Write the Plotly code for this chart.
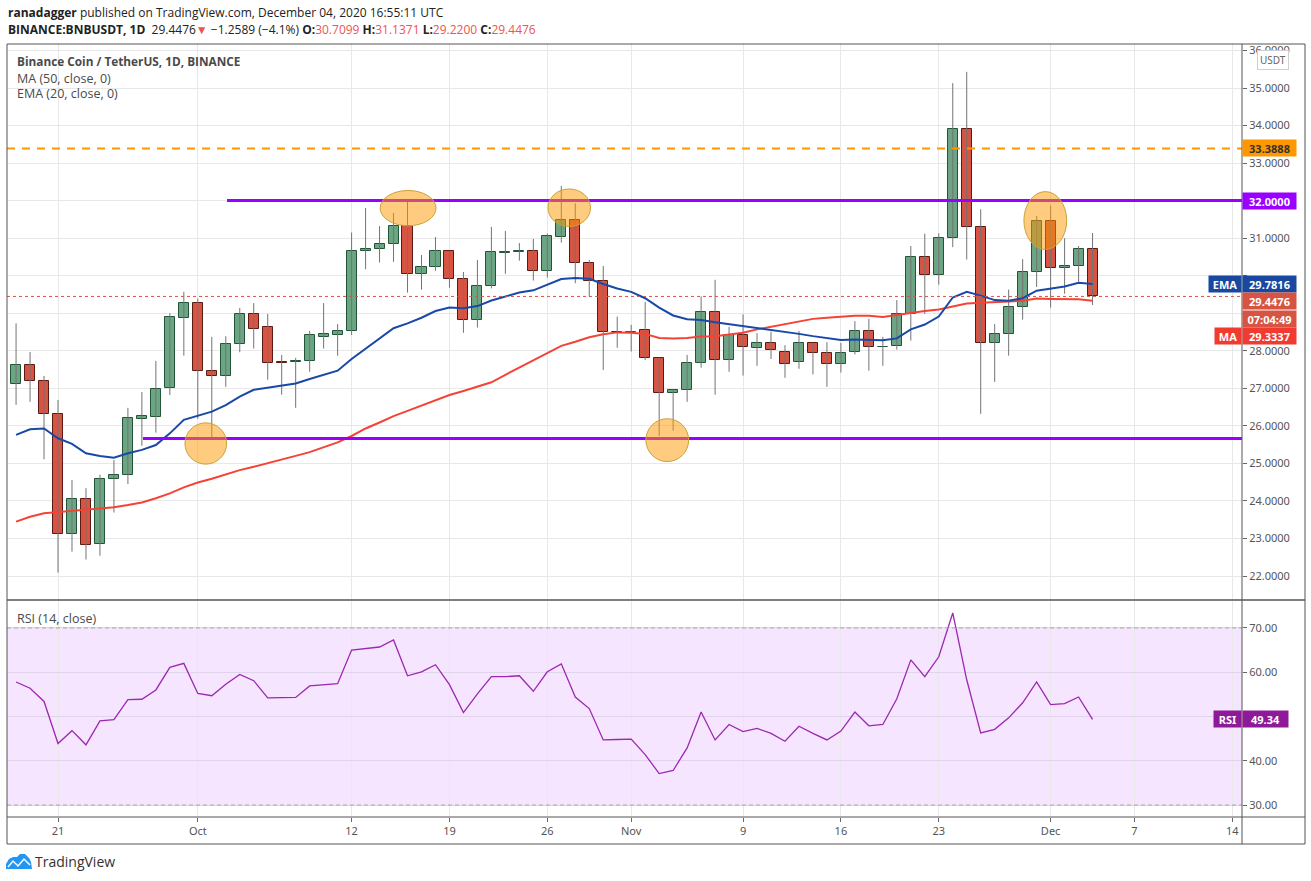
import pandas as pd
import plotly.graph_objects as go

# daily candles, BNB/USDT
DATES = pd.date_range("2020-09-18", "2020-12-04", freq="D")

OPEN = [27.11, 27.62, 27.19, 26.31, 23.11, 24.04, 22.84, 24.58, 24.68, 26.18,
        26.23, 27.00, 28.87, 29.26, 27.45, 27.32, 28.17, 28.97, 28.63, 27.70,
        27.69, 27.72, 28.38, 28.41, 28.52, 30.65, 30.70, 30.84, 31.32, 30.04,
        30.22, 30.65, 29.90, 28.81, 29.72, 30.61, 30.63, 30.65, 30.12, 31.02,
        31.48, 30.33, 29.85, 28.50, 28.49, 28.55, 27.80, 26.87, 26.95, 27.67,
        29.02, 27.75, 28.41, 28.07, 28.20, 27.98, 27.69, 28.20, 27.93, 27.66,
        27.96, 28.54, 28.09, 28.12, 28.97, 30.51, 30.01, 31.00, 33.92, 31.29,
        28.22, 28.46, 29.16, 30.09, 31.47, 30.20, 30.25, 30.7099]
HIGH = [28.73, 27.97, 27.33, 26.69, 24.56, 24.34, 24.70, 25.09, 26.48, 26.90,
        27.73, 29.00, 29.57, 29.39, 28.37, 28.39, 29.14, 29.27, 28.98, 27.89,
        27.81, 28.53, 29.27, 28.71, 31.15, 31.80, 31.32, 31.67, 31.98, 30.55,
        31.03, 30.66, 30.10, 30.42, 31.30, 31.19, 30.87, 30.98, 31.12, 32.39,
        31.93, 30.42, 30.26, 28.91, 28.69, 29.30, 27.81, 26.97, 27.89, 29.45,
        29.89, 28.64, 28.97, 28.47, 28.51, 28.15, 28.53, 28.21, 28.23, 28.21,
        28.79, 28.85, 28.37, 29.35, 30.79, 31.12, 31.13, 35.13, 35.43, 31.77,
        28.71, 29.63, 30.44, 31.59, 31.87, 31.00, 30.79, 31.1371]
LOW = [26.56, 26.64, 25.11, 22.09, 22.65, 22.44, 22.54, 23.69, 24.45, 25.47,
       25.82, 26.82, 27.87, 26.19, 25.67, 27.04, 27.96, 28.06, 27.23, 26.83,
       26.48, 27.44, 28.06, 27.87, 28.42, 30.17, 30.35, 30.37, 29.55, 29.63,
       30.13, 29.68, 28.48, 28.62, 29.66, 30.05, 30.40, 29.87, 29.95, 30.88,
       29.80, 29.44, 27.49, 28.08, 27.98, 27.75, 25.73, 25.87, 26.64, 27.55,
       26.83, 27.44, 27.34, 27.60, 27.78, 27.28, 27.52, 27.37, 27.04, 27.42,
       27.90, 27.47, 27.60, 28.03, 28.27, 28.98, 29.76, 30.76, 30.43, 26.32,
       27.17, 27.87, 28.83, 29.70, 29.15, 29.52, 29.84, 29.22]
CLOSE = [27.61, 27.19, 26.31, 23.11, 24.04, 22.82, 24.58, 24.68, 26.20, 26.25,
         26.97, 28.89, 29.26, 27.45, 27.32, 28.17, 28.97, 28.59, 27.67, 27.68,
         27.74, 28.41, 28.45, 28.52, 30.65, 30.70, 30.84, 31.32, 30.04, 30.22,
         30.65, 29.90, 28.81, 29.72, 30.62, 30.62, 30.65, 30.12, 31.05, 31.48,
         30.33, 29.85, 28.49, 28.49, 28.51, 27.80, 26.87, 26.95, 27.67, 29.02,
         27.75, 28.41, 28.09, 28.20, 28.01, 27.66, 28.20, 27.93, 27.66, 27.93,
         28.54, 28.09, 28.11, 28.97, 30.51, 30.01, 31.00, 33.92, 31.29, 28.22,
         28.46, 29.16, 30.09, 31.47, 30.20, 30.27, 30.70, 29.4476]

EMA20 = [25.76, 25.91, 25.93, 25.67, 25.52, 25.27, 25.20, 25.15, 25.27, 25.36,
         25.49, 25.80, 26.16, 26.26, 26.38, 26.55, 26.78, 26.96, 27.02, 27.07,
         27.13, 27.25, 27.37, 27.47, 27.78, 28.06, 28.32, 28.60, 28.73, 28.88,
         29.06, 29.15, 29.13, 29.19, 29.34, 29.45, 29.55, 29.61, 29.75, 29.91,
         29.94, 29.92, 29.78, 29.66, 29.57, 29.40, 29.15, 28.94, 28.84, 28.82,
         28.76, 28.71, 28.66, 28.62, 28.57, 28.51, 28.45, 28.39, 28.34, 28.29,
         28.30, 28.30, 28.28, 28.33, 28.57, 28.70, 28.91, 29.42, 29.57, 29.47,
         29.35, 29.33, 29.40, 29.60, 29.65, 29.71, 29.81, 29.7816]
MA50 = [23.45, 23.58, 23.67, 23.70, 23.74, 23.76, 23.79, 23.83, 23.89, 23.96,
        24.07, 24.20, 24.36, 24.49, 24.59, 24.71, 24.82, 24.91, 25.00, 25.09,
        25.20, 25.30, 25.43, 25.56, 25.73, 25.93, 26.09, 26.26, 26.40, 26.54,
        26.69, 26.82, 26.93, 27.04, 27.16, 27.36, 27.55, 27.75, 27.93, 28.13,
        28.24, 28.36, 28.44, 28.49, 28.48, 28.45, 28.34, 28.33, 28.34, 28.38,
        28.39, 28.43, 28.48, 28.57, 28.64, 28.69, 28.77, 28.85, 28.88, 28.91,
        28.93, 28.93, 28.90, 28.95, 29.01, 29.06, 29.10, 29.19, 29.26, 29.28,
        29.29, 29.31, 29.33, 29.39, 29.38, 29.37, 29.37, 29.3337]
RSI14 = [57.8, 56.4, 53.4, 43.9, 46.8, 43.6, 49.0, 49.3, 53.8, 53.9,
         56.0, 61.1, 62.0, 55.2, 54.7, 57.3, 59.5, 58.1, 54.2, 54.2,
         54.3, 56.9, 57.1, 57.4, 65.0, 65.3, 65.7, 67.3, 59.2, 60.1,
         61.7, 57.2, 50.9, 55.1, 59.0, 59.0, 59.2, 55.7, 60.1, 61.9,
         54.4, 51.8, 44.7, 44.8, 44.9, 41.4, 37.1, 37.8, 42.9, 51.0,
         44.7, 48.2, 46.6, 47.3, 46.2, 44.4, 47.8, 46.2, 44.7, 46.7,
         51.0, 47.9, 48.2, 54.0, 62.8, 59.0, 63.5, 73.4, 58.3, 46.3,
         47.1, 49.7, 53.1, 57.8, 52.7, 52.9, 54.4, 49.34]

RESISTANCE = 32.0
SUPPORT = 25.6652
TARGET = 33.3888

TICK_DATES = ["2020-09-21", "2020-10-01", "2020-10-12", "2020-10-19", "2020-10-26",
              "2020-11-01", "2020-11-09", "2020-11-16", "2020-11-23", "2020-12-01",
              "2020-12-07", "2020-12-14"]
TICK_TEXT = ["21", "Oct", "12", "19", "26", "Nov", "9", "16", "23", "Dec", "7", "14"]
PRICE_TICKS = list(range(22, 37))
RSI_TICKS = [30, 40, 50, 60, 70]

# page geometry (pixels)
PL, PR, PT, PB = 7, 1242, 44, 817
W, H = 1311, 881


def px_x(px):
    return (px - PL) / (PR - PL)


def px_y(py):
    return (PB - py) / (PB - PT)


def day(base, offset):
    return (pd.Timestamp(base) + pd.Timedelta(days=offset)).strftime("%Y-%m-%d %H:%M")


X0 = day("2020-09-21", -3.648)
X1 = day("2020-09-21", 84.69)

GREEN, GREEN_EDGE = "#6ba583", "#225437"
RED, RED_EDGE = "#d75442", "#5b1a13"
WICK = "#737375"
GRID = "#e8e8e8"
TXT = "#4a4a4a"
BORDER = "#555555"

x = list(DATES.strftime("%Y-%m-%d"))

fig = go.Figure()

# wicks
wx, wy = [], []
for d, hi, lo in zip(x, HIGH, LOW):
    wx += [d, d, None]
    wy += [lo, hi, None]
fig.add_trace(go.Scatter(x=wx, y=wy, mode="lines", line=dict(color=WICK, width=1),
                         hoverinfo="skip", xaxis="x", yaxis="y"))

# bodies
up = [c >= o for o, c in zip(OPEN, CLOSE)]
fig.add_trace(go.Bar(
    x=x,
    y=[max(abs(c - o), 0.02) for o, c in zip(OPEN, CLOSE)],
    base=[min(o, c) for o, c in zip(OPEN, CLOSE)],
    width=0.72 * 86400000,
    marker=dict(color=[GREEN if u else RED for u in up],
                line=dict(color=[GREEN_EDGE if u else RED_EDGE for u in up], width=1)),
    hoverinfo="skip", xaxis="x", yaxis="y"))

fig.add_trace(go.Scatter(x=x, y=MA50, mode="lines", line=dict(color="#f44336", width=2),
                         hoverinfo="skip", xaxis="x", yaxis="y"))
fig.add_trace(go.Scatter(x=x, y=EMA20, mode="lines", line=dict(color="#1848a8", width=2),
                         hoverinfo="skip", xaxis="x", yaxis="y"))

fig.add_trace(go.Scatter(x=x, y=RSI14, mode="lines", line=dict(color="#9c27b0", width=1.3),
                         hoverinfo="skip", xaxis="x2", yaxis="y2"))

shapes = []
# RSI band
shapes.append(dict(type="rect", xref="paper", yref="y2", x0=0, x1=1, y0=30, y1=70,
                   fillcolor="rgba(153,0,255,0.1)", line=dict(width=0), layer="below"))
for lvl in (30, 70):
    shapes.append(dict(type="line", xref="paper", yref="y2", x0=0, x1=1, y0=lvl, y1=lvl,
                       line=dict(color="#a8a8a8", width=1, dash="4px,3px")))

# last price
shapes.append(dict(type="line", xref="x", yref="y", x0=X0, x1=X1, y0=CLOSE[-1], y1=CLOSE[-1],
                   line=dict(color=RED, width=1, dash="dot")))
# drawn levels
shapes.append(dict(type="line", xref="x", yref="y", x0=X0, x1=X1, y0=TARGET, y1=TARGET,
                   line=dict(color="#ff9800", width=2, dash="8px,7px")))
shapes.append(dict(type="line", xref="x", yref="y", x0=day("2020-10-03", 0.09), x1=X1,
                   y0=RESISTANCE, y1=RESISTANCE, line=dict(color="#9900ff", width=3)))
shapes.append(dict(type="line", xref="x", yref="y", x0=day("2020-09-27", 0.08), x1=X1,
                   y0=SUPPORT, y1=SUPPORT, line=dict(color="#9900ff", width=3)))

# highlight ellipses: center date, day offset, price, half width (days), half height (price)
highlights = [
    ("2020-10-01", 0.57, 25.53, 1.49, 0.55),
    ("2020-10-16", 0.04, 31.80, 2.00, 0.47),
    ("2020-10-27", 0.57, 31.81, 1.52, 0.50),
    ("2020-11-03", 0.58, 25.62, 1.53, 0.57),
    ("2020-11-30", 0.62, 31.47, 1.53, 0.77),
]
for base, off, py, hw, hh in highlights:
    shapes.append(dict(type="circle", xref="x", yref="y",
                       x0=day(base, off - hw), x1=day(base, off + hw),
                       y0=py - hh, y1=py + hh,
                       fillcolor="rgba(255,152,0,0.5)", line=dict(color="#c9a23a", width=1)))

# frame
bot = px_y(844)
right = px_x(1305)
shapes += [
    dict(type="rect", xref="paper", yref="paper", x0=0, x1=right, y0=bot, y1=1,
         line=dict(color=BORDER, width=1)),
    dict(type="line", xref="paper", yref="paper", x0=1, x1=1, y0=bot, y1=1,
         line=dict(color=BORDER, width=1)),
    dict(type="line", xref="paper", yref="paper", x0=0, x1=right, y0=px_y(600), y1=px_y(600),
         line=dict(color=BORDER, width=1.5)),
    dict(type="line", xref="paper", yref="paper", x0=0, x1=right, y0=0, y1=0,
         line=dict(color=BORDER, width=1)),
]


# TradingView logo
def path(pts, close=True):
    s = "M" + " L".join(f"{px_x(a)},{px_y(b)}" for a, b in pts)
    return s + (" Z" if close else "")


shapes.append(dict(type="path", xref="paper", yref="paper",
                   path=path([(6, 869), (6, 864), (9, 859), (13, 857), (17, 857), (20, 854),
                              (25, 854), (29, 858), (31, 862), (32, 869)]),
                   fillcolor="#2196f3", line=dict(width=0)))
shapes.append(dict(type="path", xref="paper", yref="paper",
                   path=path([(8, 867), (13, 861), (18, 866), (24, 859), (30, 865)], close=False),
                   line=dict(color="white", width=1.5)))

annotations = []


def note(text, xx, yy, **kw):
    a = dict(text=text, x=xx, y=yy, xref="paper", yref="paper", showarrow=False,
             xanchor="left", yanchor="middle", font=dict(family="Noto Sans", size=12, color=TXT))
    a.update(kw)
    annotations.append(a)


RED_TXT = "#ef5350"
note("<b>ranadagger</b> published on TradingView.com, December 04, 2020 16:55:11 UTC",
     px_x(6), px_y(13), font=dict(family="Open Sans", size=12, color="#222"))
note("<b>BINANCE:BNBUSDT, 1D</b>  29.4476<span style='color:%s'>▼</span> −1.2589 (−4.1%%) "
     "<b>O:</b><span style='color:%s'>30.7099</span> <b>H:</b><span style='color:%s'>31.1371</span> "
     "<b>L:</b><span style='color:%s'>29.2200</span> <b>C:</b><span style='color:%s'>29.4476</span>"
     % (RED_TXT, RED_TXT, RED_TXT, RED_TXT, RED_TXT),
     px_x(6), px_y(30), font=dict(family="Open Sans", size=12, color="#222"))

note("<b>Binance Coin / TetherUS, 1D, BINANCE</b>", px_x(15), px_y(61),
     font=dict(family="Open Sans", size=11.8, color=TXT))
note("MA (50, close, 0)", px_x(15), px_y(78), font=dict(family="Open Sans", size=12.5, color=TXT))
note("EMA (20, close, 0)", px_x(15), px_y(94), font=dict(family="Open Sans", size=12.5, color=TXT))
note("RSI (14, close)", px_x(15), px_y(618), font=dict(family="Open Sans", size=12.5, color=TXT))
note("TradingView", px_x(33), px_y(862), font=dict(family="Open Sans", size=14, color="#333"))

note("USDT", px_x(1273), px_y(60), xanchor="center", bgcolor="white", bordercolor="#d0d0d0",
     borderwidth=1, borderpad=2, font=dict(family="Noto Sans", size=10, color="#666"))


def tag(text, yy, bg, yref="y", anchor="left", shift=0, width=50, color="white"):
    annotations.append(dict(
        text="<b>%s</b>" % text, x=1, y=yy, xref="paper", yref=yref, xanchor=anchor,
        yanchor="middle", yshift=shift, showarrow=False, bgcolor=bg, width=width, height=13,
        borderpad=1.5, align="center", font=dict(family="Noto Sans", size=11, color=color)))


tag("%.4f" % TARGET, TARGET, "#ff9800", color="#333")
tag("%.4f" % RESISTANCE, RESISTANCE, "#9900ff")
tag("EMA", EMA20[-1], "#1848a0", anchor="right", width=29)
tag("%.4f" % EMA20[-1], EMA20[-1], "#1848a0")
tag("%.4f" % CLOSE[-1], CLOSE[-1], "#d75442", shift=-5)
tag("07:04:49", CLOSE[-1], "#d75442", shift=-23)
tag("MA", MA50[-1], "#f23b30", anchor="right", shift=-35, width=23)
tag("%.4f" % MA50[-1], MA50[-1], "#f23b30", shift=-35)
tag("RSI", RSI14[-1], "#8e1a98", yref="y2", anchor="right", width=24)
tag("%.2f" % RSI14[-1], RSI14[-1], "#8e1a98", yref="y2", width=42)

# tick labels that sit under the value tags are left blank
price_text = ["" if v in (29, 30) else "%.4f" % v for v in PRICE_TICKS]
rsi_text = ["" if v == 50 else "%.2f" % v for v in RSI_TICKS]

axis_font = dict(family="Noto Sans", size=11, color="#555")

fig.update_layout(
    width=W, height=H,
    margin=dict(l=PL, r=W - PR, t=PT, b=H - PB),
    paper_bgcolor="white", plot_bgcolor="white",
    showlegend=False, barmode="overlay", bargap=0,
    xaxis=dict(domain=[0, 1], anchor="y", range=[X0, X1], type="date",
               tickvals=TICK_DATES, showticklabels=False, ticks="",
               showgrid=True, gridcolor=GRID, zeroline=False, showline=False),
    xaxis2=dict(domain=[0, 1], anchor="y2", matches="x", range=[X0, X1], type="date",
                tickvals=TICK_DATES, ticktext=TICK_TEXT, ticks="outside", ticklen=4,
                tickcolor="#666", tickfont=axis_font, showgrid=True, gridcolor=GRID,
                zeroline=False, showline=False),
    yaxis=dict(domain=[px_y(600), 1], anchor="x", side="right", range=[21.361, 36.172],
               tickvals=PRICE_TICKS, ticktext=price_text, ticks="outside", ticklen=4,
               tickcolor="#666", tickfont=axis_font, showgrid=True, gridcolor=GRID,
               zeroline=False, showline=False),
    yaxis2=dict(domain=[0, px_y(601)], anchor="x2", side="right", range=[27.29, 76.1],
                tickvals=RSI_TICKS, ticktext=rsi_text, ticks="outside", ticklen=4,
                tickcolor="#666", tickfont=axis_font, showgrid=True, gridcolor="#e0d4ea",
                zeroline=False, showline=False),
    shapes=shapes,
    annotations=annotations,
)

fig.write_html("out.html", config={"displayModeBar": False},
               post_script="document.body.style.margin='0px';")
